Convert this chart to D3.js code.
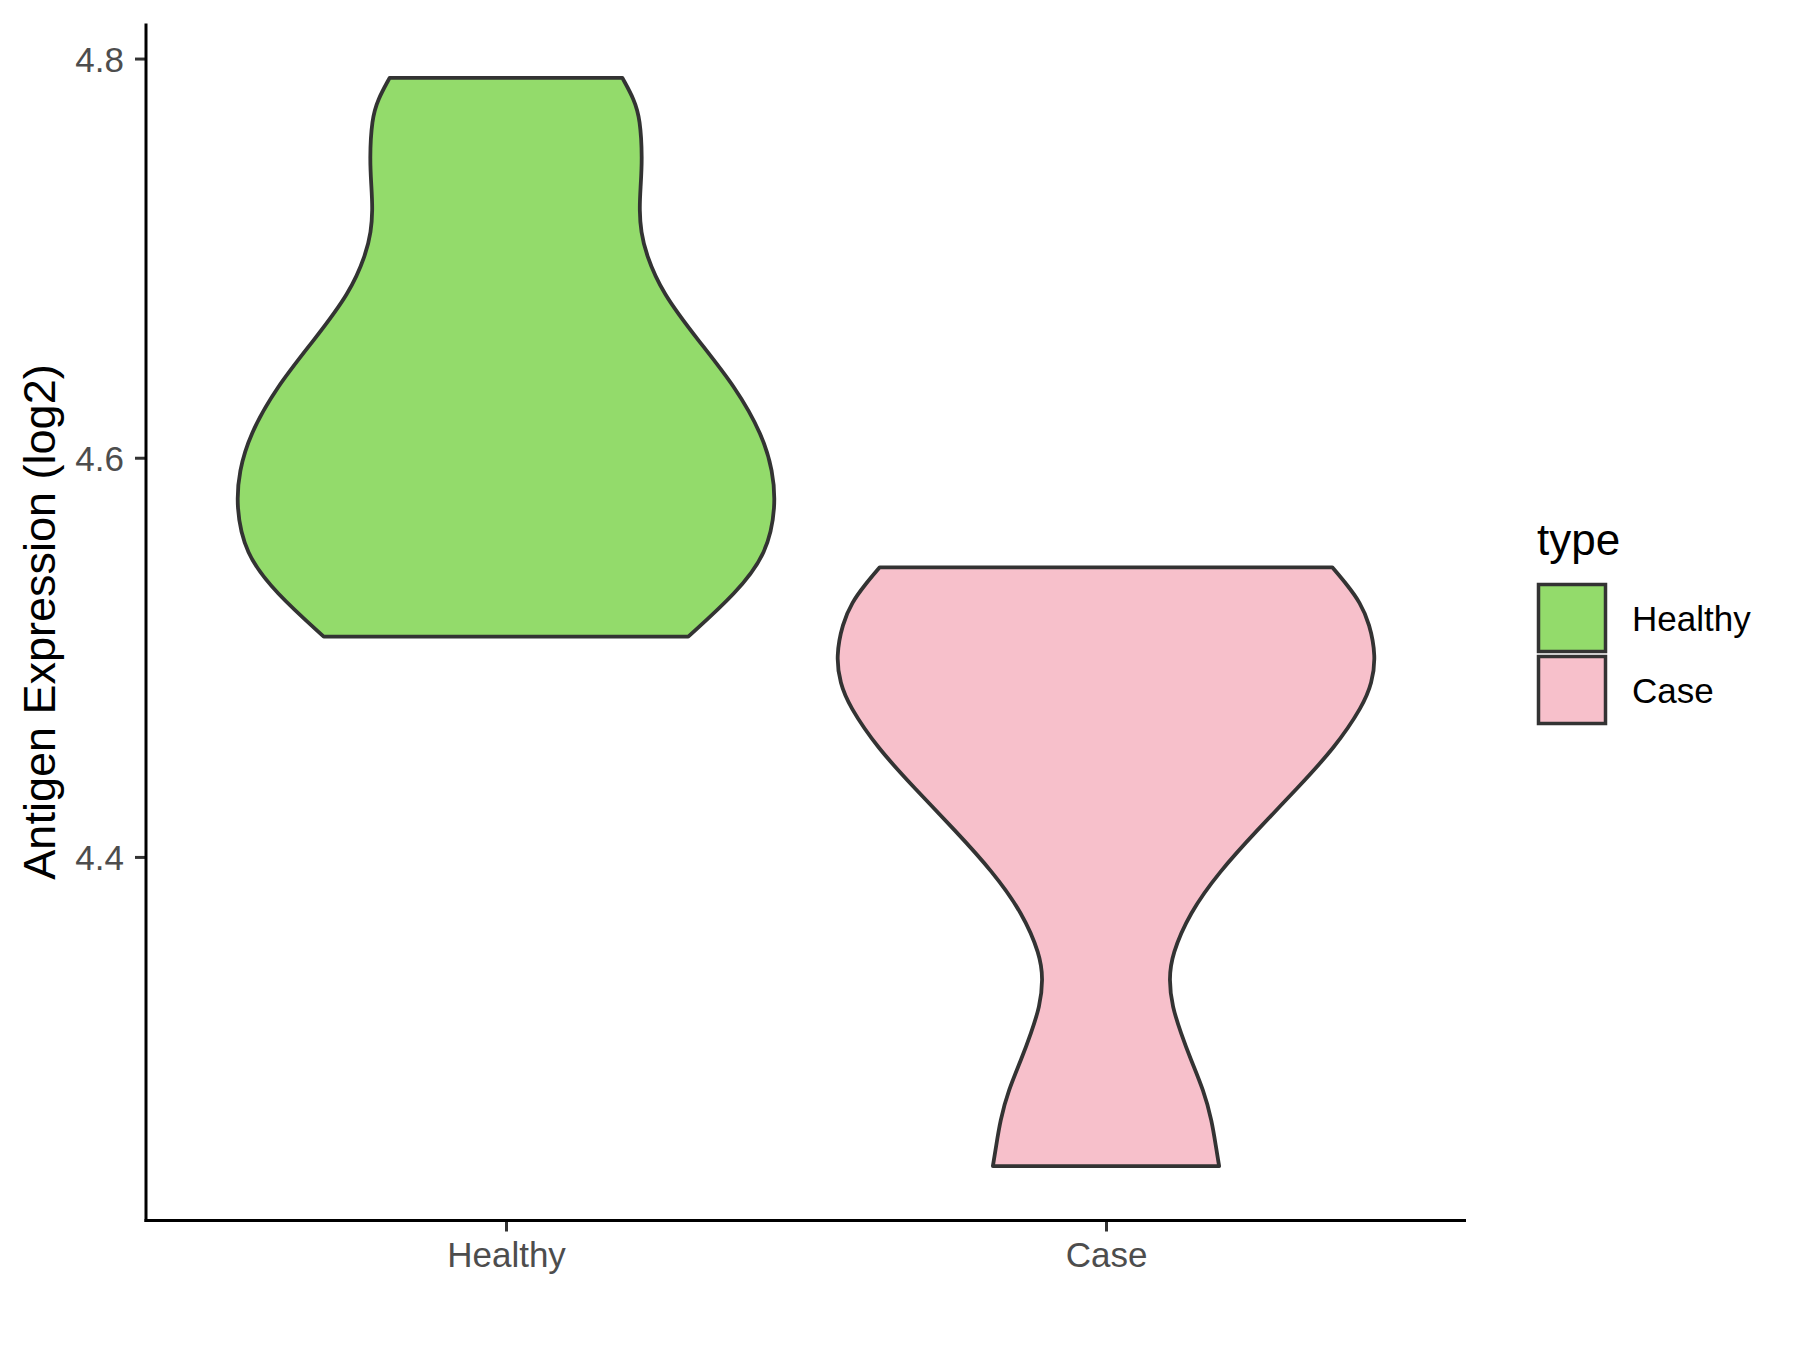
<!DOCTYPE html>
<html>
<head>
<meta charset="utf-8">
<script src="https://cdn.jsdelivr.net/npm/d3@7"></script>
<style>
  html, body { margin: 0; padding: 0; background: #ffffff; }
  svg { display: block; }
  text { font-family: "Liberation Sans", Arial, sans-serif; }
</style>
</head>
<body>
<svg id="chart" width="1800" height="1350"></svg>
<script>
// ---- data ----
const categories = ["Healthy", "Case"];
const fills = ["#93DB6B", "#F7C0CB"];
const yTicks = [4.4, 4.6, 4.8];
const yTitle = "Antigen Expression (log2)";
const legendTitle = "type";

// violin outline: expression level and relative half-width (density, scaled to max = 1)
const healthyLevels = [4.7903, 4.7795, 4.7696, 4.7498, 4.7350, 4.7241, 4.7130, 4.7023, 4.6826, 4.6588, 4.6351, 4.6113, 4.5935, 4.5757, 4.5520, 4.5322, 4.5104];
const healthyDensity = [0.431, 0.475, 0.497, 0.505, 0.498, 0.494, 0.500, 0.518, 0.578, 0.712, 0.852, 0.950, 0.988, 1.000, 0.967, 0.853, 0.675];
const caseLevels = [4.5451, 4.5360, 4.5275, 4.5170, 4.5005, 4.4870, 4.4756, 4.4548, 4.4340, 4.4133, 4.3925, 4.3718, 4.3510, 4.3386, 4.3250, 4.3116, 4.2991, 4.2829, 4.2680, 4.2541, 4.2451];
const caseDensity = [0.838, 0.895, 0.941, 0.976, 1.000, 0.985, 0.951, 0.848, 0.706, 0.559, 0.419, 0.309, 0.244, 0.233, 0.245, 0.278, 0.312, 0.362, 0.392, 0.408, 0.419];

const violins = [
  { name: categories[0], levels: healthyLevels, density: healthyDensity, fill: fills[0] },
  { name: categories[1], levels: caseLevels, density: caseDensity, fill: fills[1] }
];

// ---- layout ----
const svg = d3.select("#chart");
const panel = { left: 146, right: 1466, top: 23.5, bottom: 1220.5 };

const allVals = healthyLevels.concat(caseLevels);
const vmin = d3.min(allVals), vmax = d3.max(allVals);
const pad = (vmax - vmin) * 0.05;
const y = d3.scaleLinear().domain([vmin - pad, vmax + pad]).range([panel.bottom, panel.top]);
const x = d3.scalePoint().domain(categories).range([panel.left, panel.right]).padding(0.6);
const halfMax = x.step() * 0.45;

// violins
violins.forEach(v => {
  const cx = x(v.name);
  const pts = v.levels.map((lv, i) => ({ lv, d: v.density[i] }));
  const area = d3.area()
    .y(d => y(d.lv))
    .x0(d => cx - d.d * halfMax)
    .x1(d => cx + d.d * halfMax)
    .curve(d3.curveBasis);
  svg.append("path")
    .attr("d", area(pts))
    .attr("fill", v.fill)
    .attr("stroke", "#333333")
    .attr("stroke-width", 3.8)
    .attr("stroke-linejoin", "round");
});

// y axis
const yAxis = d3.axisLeft(y).tickValues(yTicks).tickFormat(d3.format(".1f")).tickSize(11).tickPadding(11);
const gy = svg.append("g").attr("transform", `translate(${panel.left},0)`).call(yAxis);
gy.select(".domain").remove();
gy.selectAll(".tick line").attr("stroke", "#333333").attr("stroke-width", 3);
gy.selectAll(".tick text").attr("fill", "#4D4D4D").attr("font-size", 35)
  .attr("font-family", "'Liberation Sans', Arial, sans-serif").attr("dy", "0.36em");

// x axis
const xAxis = d3.axisBottom(x).tickSize(11).tickPadding(10);
const gx = svg.append("g").attr("transform", `translate(0,${panel.bottom})`).call(xAxis);
gx.select(".domain").remove();
gx.selectAll(".tick line").attr("stroke", "#333333").attr("stroke-width", 3);
gx.selectAll(".tick text").attr("fill", "#4D4D4D").attr("font-size", 35)
  .attr("font-family", "'Liberation Sans', Arial, sans-serif").attr("dy", "0.72em");

// axis lines
svg.append("line").attr("x1", panel.left).attr("x2", panel.left)
  .attr("y1", panel.top).attr("y2", panel.bottom + 1.5)
  .attr("stroke", "#000").attr("stroke-width", 3);
svg.append("line").attr("x1", panel.left - 1.5).attr("x2", panel.right)
  .attr("y1", panel.bottom).attr("y2", panel.bottom)
  .attr("stroke", "#000").attr("stroke-width", 3);

// y title
svg.append("text")
  .attr("transform", `translate(55,${(panel.top + panel.bottom) / 2}) rotate(-90)`)
  .attr("text-anchor", "middle")
  .attr("font-size", 45)
  .attr("fill", "#000")
  .text(yTitle);

// legend
const lg = svg.append("g");
lg.append("text").attr("x", 1537).attr("y", 555).attr("font-size", 44).attr("fill", "#000").text(legendTitle);
violins.forEach((v, i) => {
  const ky = 584.5 + i * 72;
  lg.append("rect").attr("x", 1538.5).attr("y", ky).attr("width", 67).attr("height", 67)
    .attr("fill", v.fill).attr("stroke", "#333333").attr("stroke-width", 3.5);
  lg.append("text").attr("x", 1632).attr("y", ky + 33.5).attr("dy", "0.36em")
    .attr("font-size", 35).attr("fill", "#000").text(v.name);
});
</script>
</body>
</html>
